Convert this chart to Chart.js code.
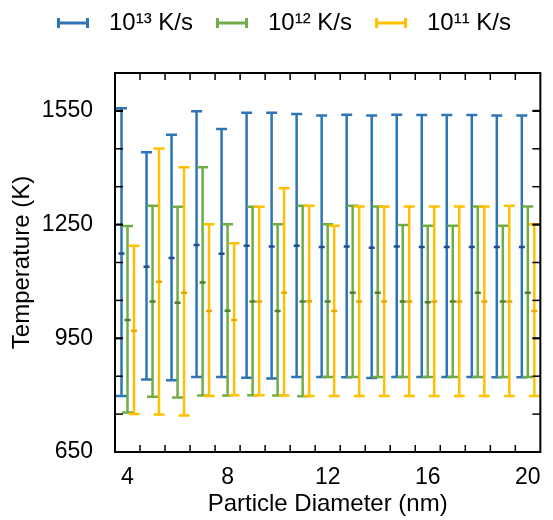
<!DOCTYPE html>
<html lang="en">
<head>
    <meta charset="UTF-8">
    <title>Temperature vs Particle Diameter</title>
    <script src="https://cdn.jsdelivr.net/npm/chart.js"></script>
    <style>body { margin: 0; background: #fff; }</style>
</head>
<body>
    <canvas id="myChart" width="553" height="520"></canvas>

    <script>
        // categories and axis ticks
        const diameters = [4, 5, 6, 7, 8, 9, 10, 11, 12, 13, 14, 15, 16, 17, 18, 19, 20];
        const rateLabels = ['10¹³ K/s', '10¹² K/s', '10¹¹ K/s'];
        const xTicks = [4, 8, 12, 16, 20];
        const yTicks = [650, 950, 1250, 1550];

        // 10^13 K/s
        const high13 = [1557, 1441, 1487, 1549, 1502, 1545, 1545, 1542, 1538, 1540, 1538, 1540, 1539, 1539, 1539, 1538, 1538];
        const mean13 = [1174, 1139, 1162, 1196, 1173, 1194, 1192, 1194, 1191, 1192, 1189, 1192, 1191, 1191, 1191, 1191, 1191];
        const low13  = [798, 841, 839, 848, 848, 846, 844, 848, 848, 847, 845, 848, 848, 848, 848, 847, 847];

        // 10^12 K/s
        const high12 = [1246, 1300, 1297, 1401, 1251, 1297, 1251, 1300, 1251, 1300, 1298, 1249, 1247, 1247, 1298, 1247, 1298];
        const mean12 = [998, 1047, 1044, 1097, 1023, 1047, 1022, 1047, 1047, 1070, 1070, 1047, 1045, 1047, 1070, 1047, 1070];
        const low12  = [754, 796, 794, 799, 799, 800, 799, 797, 848, 848, 848, 848, 848, 848, 848, 848, 848];

        // 10^11 K/s
        const high11 = [1194, 1451, 1401, 1251, 1201, 1297, 1346, 1300, 1247, 1298, 1298, 1298, 1298, 1298, 1298, 1300, 1251];
        const mean11 = [970, 1099, 1070, 1022, 998, 1047, 1070, 1048, 1022, 1047, 1047, 1047, 1047, 1047, 1047, 1047, 1022];
        const low11  = [750, 749, 746, 798, 800, 800, 799, 798, 798, 798, 798, 798, 798, 798, 798, 798, 798];

        const colors = ['#2E75B6', '#70AD47', '#FFC000'];
        const meanColors = ['#1F4E8C', '#4E7F2F', '#E8A800'];
        const offsets = [-0.24, 0, 0.26];
        const font = 'Liberation Sans';

        // little error bar glyph for the legend
        function errorIcon(color) {
            const c = document.createElement('canvas');
            c.width = 57; c.height = 14;
            const g = c.getContext('2d');
            g.strokeStyle = color;
            g.lineWidth = 3;
            g.beginPath();
            g.moveTo(17, 7); g.lineTo(49, 7);
            g.moveTo(18.5, 2); g.lineTo(18.5, 12);
            g.moveTo(47.5, 2); g.lineTo(47.5, 12);
            g.stroke();
            return c;
        }

        const series = [
            { label: rateLabels[0], low: low13, mean: mean13, high: high13 },
            { label: rateLabels[1], low: low12, mean: mean12, high: high12 },
            { label: rateLabels[2], low: low11, mean: mean11, high: high11 }
        ];

        const datasets = [];
        series.forEach((s, k) => {
            const whisker = [], caps = [], means = [];
            diameters.forEach((d, i) => {
                const x = d + offsets[k];
                whisker.push({ x: x, y: s.low[i] }, { x: x, y: s.high[i] }, { x: x, y: null });
                caps.push({ x: x, y: s.low[i] }, { x: x, y: s.high[i] });
                means.push({ x: x, y: s.mean[i] });
            });
            const base = 9 - 3 * k;
            datasets.push({
                label: s.label, data: whisker, showLine: true, spanGaps: false,
                borderColor: colors[k], borderWidth: 2.5, pointRadius: 0,
                pointStyle: errorIcon(colors[k]), order: base, inLegend: true
            });
            datasets.push({
                label: s.label + ' caps', data: caps, pointStyle: 'line', pointRadius: 5.5,
                pointBorderWidth: 2.5, borderColor: colors[k], backgroundColor: colors[k], order: base - 1
            });
            datasets.push({
                label: s.label + ' mean', data: means, pointStyle: 'line', pointRadius: 3,
                pointBorderWidth: 2.5, borderColor: meanColors[k], backgroundColor: meanColors[k], order: base - 2
            });
        });

        // box around the plot with inward tick marks
        const frame = {
            id: 'frame',
            afterDraw(chart) {
                const { ctx, chartArea: a, scales: { x, y } } = chart;
                ctx.save();
                ctx.strokeStyle = '#000';
                const seg = (x1, y1, x2, y2) => { ctx.beginPath(); ctx.moveTo(x1, y1); ctx.lineTo(x2, y2); ctx.stroke(); };
                ctx.lineWidth = 1.5;
                for (let v = x.min + 1; v < x.max; v += 1) {
                    const px = x.getPixelForValue(v);
                    seg(px, a.bottom, px, a.bottom - 7);
                    seg(px, a.top, px, a.top + 7);
                }
                for (let v = y.min + 100; v < y.max; v += 100) {
                    const py = y.getPixelForValue(v);
                    ctx.lineWidth = yTicks.includes(v) ? 2.2 : 1.5;
                    seg(a.left, py, a.left + 8, py);
                    seg(a.right, py, a.right - 8, py);
                }
                ctx.lineWidth = 2;
                ctx.strokeRect(a.left, a.top, a.right - a.left, a.bottom - a.top);
                ctx.restore();
            }
        };

        const ctx = document.getElementById('myChart').getContext('2d');
        const myChart = new Chart(ctx, {
            type: 'scatter',
            data: { datasets: datasets },
            plugins: [frame],
            options: {
                responsive: false,
                animation: false,
                events: [],
                layout: { padding: { top: 5, left: 8, right: 10, bottom: 0 } },
                plugins: {
                    tooltip: { enabled: false },
                    legend: {
                        position: 'top',
                        labels: {
                            filter: (item, data) => data.datasets[item.datasetIndex].inLegend,
                            sort: (a, b) => a.datasetIndex - b.datasetIndex,
                            usePointStyle: true,
                            pointStyleWidth: 57,
                            boxHeight: 14,
                            padding: 6,
                            color: '#000',
                            font: { family: font, size: 24 }
                        }
                    }
                },
                scales: {
                    x: {
                        type: 'linear', position: 'bottom', min: 3.5, max: 20.5,
                        afterBuildTicks: s => { s.ticks = xTicks.map(v => ({ value: v })); },
                        afterFit: s => { s.height = 68; },
                        grid: { display: false, drawTicks: false },
                        border: { display: false },
                        ticks: { autoSkip: false, maxRotation: 0, padding: 12, color: '#000', font: { family: font, size: 23 }, callback: v => String(v) },
                        title: { display: true, text: 'Particle Diameter (nm)', color: '#000', font: { family: font, size: 24 }, padding: { top: 0, bottom: 1 } }
                    },
                    x2: {
                        type: 'linear', position: 'top', min: 3.5, max: 20.5,
                        afterFit: s => { s.height = 28; },
                        grid: { display: false, drawTicks: false },
                        border: { display: false },
                        ticks: { display: false }
                    },
                    y: {
                        type: 'linear', min: 650, max: 1650,
                        afterBuildTicks: s => { s.ticks = yTicks.map(v => ({ value: v })); },
                        afterFit: s => { s.width = 107; },
                        grid: { display: false, drawTicks: false },
                        border: { display: false },
                        ticks: { padding: 22, color: '#000', font: { family: font, size: 23 }, callback: v => String(v) },
                        title: { display: true, text: 'Temperature (K)', color: '#000', font: { family: font, size: 24, lineHeight: 0.67 }, padding: { top: 6, bottom: 0 } }
                    }
                }
            }
        });
    </script>
</body>
</html>
